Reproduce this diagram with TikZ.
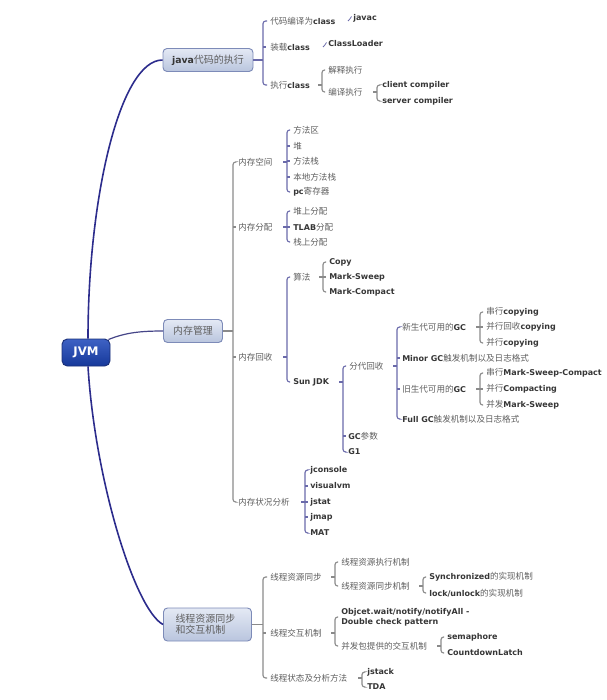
\documentclass[tikz,border=0pt]{standalone}
\usepackage{fontspec}
\setmainfont{DejaVu Sans}
\newfontfamily\cjk[Scale=1.07]{Noto Sans CJK SC}
\usetikzlibrary{calc}

\definecolor{teks}{HTML}{5E5E5E}
\definecolor{tebal}{HTML}{363636}
\definecolor{garis}{HTML}{6A6AAA}
\definecolor{abu}{HTML}{8A8A8A}
\definecolor{kurva}{HTML}{2C2C8C}
\definecolor{kotakatas}{HTML}{E4E9F4}
\definecolor{kotakbawah}{HTML}{B9C5DE}
\definecolor{tepi}{HTML}{7D8BB8}
\definecolor{akaratas}{HTML}{3E62C4}
\definecolor{akarbawah}{HTML}{16389A}
\definecolor{akartepi}{HTML}{1A2F78}

\newcommand{\zh}[1]{{\cjk\color{teks}#1}}
\newcommand{\en}[1]{{\bfseries\color{tebal}#1}}

% kurung: [warna]{x}{induk}{anak pertama}{anak terakhir}{anak tengah}
\newcommand{\kurung}[6][garis]{%
  \coordinate (kx) at (#2,0);
  \draw[#1, line width=0.85pt, rounded corners=2pt] ($(#4.west)+(-3,0)$) -- (#4.west -| kx) -- (#5.west -| kx) -- ($(#5.west)+(-3,0)$);
  \draw[#1, line width=0.85pt] ($(#3.east -| kx)+(-4,0)$) -- (#3.east -| kx);
  \def\tengah{#6}%
  \ifx\tengah\empty\else
    \foreach \c in {#6} \draw[#1, line width=0.85pt] (\c.west -| kx) -- ++(3,0);
  \fi
}

\tikzset{
  daun/.style={anchor=west, inner sep=0pt, font=\fontsize{6}{7.5}\selectfont},
  kotak/.style={draw=tepi, line width=0.7pt, rounded corners=3pt, top color=kotakatas,
    bottom color=kotakbawah, font=\fontsize{7}{8.5}\selectfont, inner sep=0pt},
  akar/.style={draw=akartepi, line width=0.7pt, rounded corners=4pt,
    top color=akaratas, bottom color=akarbawah, text=white,
    font=\bfseries\fontsize{8.8}{10}\selectfont, minimum width=36pt, minimum height=20.25pt}
}

\begin{document}
\begin{tikzpicture}[x=0.75pt, y=-0.75pt]
    \useasboundingbox (0,0) rectangle (607,700);

    % Kotak utama
    \node[akar] (jvm) at (86,352.5) {JVM};
    \node[kotak, minimum width=67.5pt, minimum height=17.25pt] (java) at (208,60) {\en{java}\zh{代码的执行}};
    \node[kotak, minimum width=44.25pt, minimum height=17.25pt] (mem) at (193,331) {\zh{内存管理}};
    \node[kotak, minimum height=24.75pt, text width=48pt, inner xsep=9pt, align=left] (thr) at (207.5,624.5) {\zh{线程资源同步}\\\zh{和交互机制}};

    % Kurva dari JVM
    \draw[kurva, line width=1.2pt] ($(jvm.north)+(2,0)$) .. controls +(0,-139) and +(-43,0) .. (java.west);
    \draw[kurva!70!gray, line width=0.9pt] ($(jvm.north east)+(-2,1)$) .. controls +(17,-7) and +(-22,0) .. (mem.west);
    \draw[kurva, line width=1.2pt] ($(jvm.south)+(2,0)$) .. controls +(7,114) and +(-28,-15) .. (thr.west);

    % Cabang java
    \foreach \n/\x/\y/\t in {
        kompilasi/270/21/{\zh{代码编译为}\en{class}},
        muat/270/47/{\zh{装载}\en{class}},
        eksekusi/270/85/{\zh{执行}\en{class}},
        javac/353/18/{\en{javac}},
        loader/328/44/{\en{ClassLoader}},
        tafsir/328/70/{\zh{解释执行}},
        kompil/328/92/{\zh{编译执行}},
        client/382/85/{\en{client compiler}},
        server/382/101/{\en{server compiler}}}
        \node[daun] (\n) at (\x,\y) {\t};

    \kurung{263}{java}{kompilasi}{eksekusi}{muat}
    \draw[garis, line width=0.85pt] (java.east) -- (java.east -| kx);
    \kurung[abu]{322}{eksekusi}{tafsir}{kompil}{}
    \kurung[abu]{377}{kompil}{client}{server}{}
    \draw[garis, line width=0.6pt] ($(javac.west)+(-5,3)$) .. controls +(2,0) and +(-2,1) .. ($(javac.west)+(-1.5,-1.5)$);
    \draw[garis, line width=0.6pt] ($(loader.west)+(-5,3)$) .. controls +(2,0) and +(-2,1) .. ($(loader.west)+(-1.5,-1.5)$);

    % Cabang memori
    \foreach \n/\x/\y/\t in {
        ruang/238/162/{\zh{内存空间}},
        alokasi/238/227/{\zh{内存分配}},
        daurulang/238/357/{\zh{内存回收}},
        analisis/238/502/{\zh{内存状况分析}},
        metode/293/130/{\zh{方法区}},
        heap/293/146/{\zh{堆}},
        tumpuk/293/161/{\zh{方法栈}},
        lokal/293/177/{\zh{本地方法栈}},
        pc/293/192/{\en{pc}\zh{寄存器}},
        diheap/293/211/{\zh{堆上分配}},
        tlab/293/227/{\en{TLAB}\zh{分配}},
        distack/293/242/{\zh{栈上分配}},
        algo/293/277/{\zh{算法}},
        sunjdk/293/382/{\en{Sun JDK}},
        copy/329/262/{\en{Copy}},
        ms/329/277/{\en{Mark-Sweep}},
        mc/329/292/{\en{Mark-Compact}},
        generasi/349/366/{\zh{分代回收}},
        gcparam/348/436/{\en{GC}\zh{参数}},
        gone/348/452/{\en{G1}},
        muda/402/327/{\zh{新生代可用的}\en{GC}},
        minor/402/358/{\en{Minor GC}\zh{触发机制以及日志格式}},
        tua/402/389/{\zh{旧生代可用的}\en{GC}},
        full/402/419/{\en{Full GC}\zh{触发机制以及日志格式}},
        mudaa/486/312/{\zh{串行}\en{copying}},
        mudab/486/327/{\zh{并行回收}\en{copying}},
        mudac/486/343/{\zh{并行}\en{copying}},
        tuaa/486/373/{\zh{串行}\en{Mark-Sweep-Compact}},
        tuab/486/389/{\zh{并行}\en{Compacting}},
        tuac/486/405/{\zh{并发}\en{Mark-Sweep}},
        jconsole/310/470/{\en{jconsole}},
        visualvm/310/486/{\en{visualvm}},
        jstat/310/502/{\en{jstat}},
        jmap/310/517/{\en{jmap}},
        mat/310/533/{\en{MAT}}}
        \node[daun] (\n) at (\x,\y) {\t};

    \kurung[abu]{233}{mem}{ruang}{analisis}{alokasi,daurulang}
    \draw[abu, line width=0.85pt] (mem.east) -- (mem.east -| kx);
    \kurung{287}{ruang}{metode}{pc}{heap,tumpuk,lokal}
    \kurung{287}{alokasi}{diheap}{distack}{tlab}
    \kurung{287}{daurulang}{algo}{sunjdk}{}
    \kurung[abu]{323}{algo}{copy}{mc}{ms}
    \kurung{343}{sunjdk}{generasi}{gone}{gcparam}
    \kurung{397}{generasi}{muda}{full}{minor,tua}
    \kurung[abu]{480}{muda}{mudaa}{mudac}{mudab}
    \kurung[abu]{480}{tua}{tuaa}{tuac}{tuab}
    \kurung{305}{analisis}{jconsole}{mat}{visualvm,jstat,jmap}

    % Cabang thread
    \foreach \n/\x/\y/\t in {
        sinkron/270/577/{\zh{线程资源同步}},
        interaksi/270/633/{\zh{线程交互机制}},
        status/270/678/{\zh{线程状态及分析方法}},
        eksmek/341/562/{\zh{线程资源执行机制}},
        sinmek/341/586/{\zh{线程资源同步机制}},
        synch/429/577/{\en{Synchronized}\zh{的实现机制}},
        lock/429/593/{\en{lock/unlock}\zh{的实现机制}},
        konkuren/341/646/{\zh{并发包提供的交互机制}},
        semaphore/447/637/{\en{semaphore}},
        latch/447/653/{\en{CountdownLatch}},
        jstack/367/672/{\en{jstack}},
        tda/367/687/{\en{TDA}}}
        \node[daun] (\n) at (\x,\y) {\t};
    \node[daun, align=left] (objek) at (341,617) {\en{Objcet.wait/notify/notifyAll -}\\\en{Double check pattern}};

    \kurung[abu]{263}{thr}{sinkron}{status}{interaksi}
    \draw[abu, line width=0.85pt] (thr.east) -- (thr.east -| kx);
    \kurung[abu]{335}{sinkron}{eksmek}{sinmek}{}
    \kurung[abu]{423}{sinmek}{synch}{lock}{}
    \kurung[abu]{335}{interaksi}{objek}{konkuren}{}
    \kurung[abu]{441}{konkuren}{semaphore}{latch}{}
    \kurung[abu]{362}{status}{jstack}{tda}{}
\end{tikzpicture}
\end{document}
